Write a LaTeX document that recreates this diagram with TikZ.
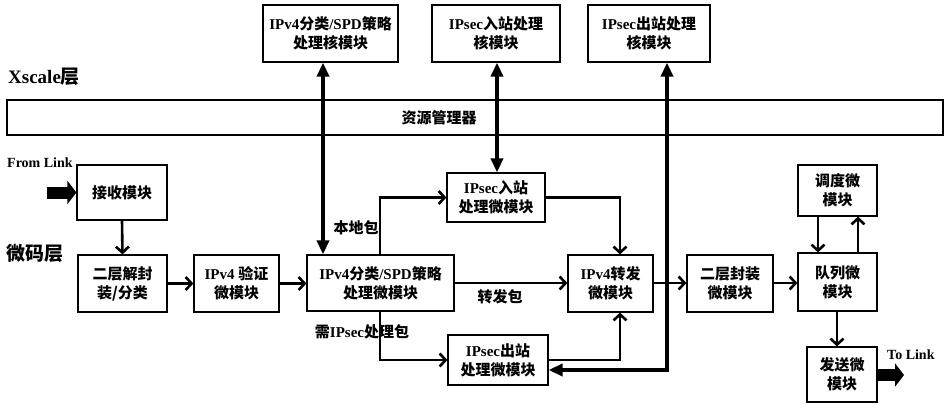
\documentclass[tikz,border=0pt]{standalone}
\usepackage{fontspec}
\setmainfont{Liberation Serif}
\newfontfamily\cjk{Noto Sans CJK SC}
\usetikzlibrary{arrows.meta}
\newcommand\zh[1]{{\cjk #1}}
\begin{document}
\begin{tikzpicture}[x=1pt,y=-1pt,
  box/.style={draw,line width=1.2pt,align=center,inner sep=0pt,font=\fontsize{15}{19}\selectfont\bfseries},
  conn/.style={line width=2.6pt,-{Straight Barb[length=6pt,width=13pt]}},
  big/.style={line width=3.4pt,{Triangle[length=14pt,width=12pt]}-{Triangle[length=14pt,width=12pt]}},
  blk/.style={line width=12pt,-{Triangle[length=9pt,width=23pt]}},
  lbl/.style={font=\fontsize{15}{18}\selectfont\bfseries,inner sep=0pt},
  lay/.style={font=\fontsize{19}{22}\selectfont\bfseries,inner sep=0pt,anchor=west},
  link/.style={font=\fontsize{14}{16}\selectfont\bfseries,inner sep=0pt,anchor=west},
]
\useasboundingbox (0,0) rectangle (947,405);
% top (Xscale) modules
\node[box,minimum width=135pt,minimum height=57pt] (T1) at (330.5,33.5) {IPv4\zh{分类}/SPD\zh{策略}\\\zh{处理核模块}};
\node[box,minimum width=128pt,minimum height=57pt] (T2) at (496,33.5) {IPsec\zh{入站处理}\\\zh{核模块}};
\node[box,minimum width=122pt,minimum height=57pt] (T3) at (649,33.5) {IPsec\zh{出站处理}\\\zh{核模块}};
\node[lay] (xs) at (8,77) {Xscale\zh{层}};
\node[box,minimum width=936pt,minimum height=35pt] (rm) at (475,117.5) {};
\node[lbl] (rmt) at (439,117.5) {\zh{资源管理器}};
% microcode modules
\node[lay] (mc) at (6,253) {\zh{微码层}};
\node[link] (fl) at (7,163) {From Link};
\node[box,minimum width=90pt,minimum height=55pt] (recv) at (122,192.5) {\zh{接收模块}};
\node[box,minimum width=89pt,minimum height=57pt] (decap) at (122.5,283.5) {\zh{二层解封}\\\zh{装/分类}};
\node[box,minimum width=85pt,minimum height=57pt] (ver) at (236.5,283.5) {IPv4 \zh{验证}\\\zh{微模块}};
\node[box,minimum width=147pt,minimum height=56pt] (cls) at (380.5,283) {IPv4\zh{分类}/SPD\zh{策略}\\\zh{处理微模块}};
\node[box,minimum width=98pt,minimum height=49pt] (inb) at (496,197.5) {IPsec\zh{入站}\\\zh{处理微模块}};
\node[box,minimum width=85pt,minimum height=57pt] (fwd) at (610.5,283.5) {IPv4\zh{转发}\\\zh{微模块}};
\node[box,minimum width=100pt,minimum height=50pt] (outb) at (498,360) {IPsec\zh{出站}\\\zh{处理微模块}};
\node[box,minimum width=86pt,minimum height=57pt] (encap) at (730,283.5) {\zh{二层封装}\\\zh{微模块}};
\node[box,minimum width=79pt,minimum height=58pt] (queue) at (837.5,282) {\zh{队列微}\\\zh{模块}};
\node[box,minimum width=79pt,minimum height=51pt] (sched) at (837.5,190.5) {\zh{调度微}\\\zh{模块}};
\node[box,minimum width=70pt,minimum height=55pt] (send) at (842,374.5) {\zh{发送微}\\\zh{模块}};
\node[link] (tl) at (887,355) {To Link};
% edge labels
\node[lbl] (l1) at (356,228) {\zh{本地包}};
\node[lbl] (l2) at (500,297) {\zh{转发包}};
\node[lbl] (l3) at (362,332) {\zh{需}IPsec\zh{处理包}};
% coordinates for free ends
\coordinate (fls) at (47,192.5);
\coordinate (tle) at (904,375);
% connectors
\draw[blk] (fls) -- (recv.west);
\draw[blk] (send.east |- tle) -- (tle);
\draw[conn] (recv.south) -- (decap.north);
\draw[conn] (decap.east) -- (ver.west);
\draw[conn] (ver.east) -- (ver.east -| cls.west);
\draw[big] (323,0 |- T1.south) -- (323,0 |- cls.north);
\draw[big] (497,0 |- T2.south) -- (497,0 |- inb.north);
\draw[big,line join=miter] (667,0 |- T3.south) -- (667,370) -- (outb.east |- 0,370);
\draw[conn] (380,0 |- cls.north) |- (inb.west);
\draw[conn] (inb.east) -| (620,0 |- fwd.north);
\draw[conn] (cls.east |- 0,283) -- (fwd.west |- 0,283);
\draw[conn] (380,0 |- cls.south) |- (outb.west);
\draw[conn] (outb.east) -| (620,0 |- fwd.south);
\draw[conn] (fwd.east |- 0,283) -- (encap.west |- 0,283);
\draw[conn] (encap.east |- 0,283) -- (queue.west |- 0,283);
\draw[conn] (818,0 |- sched.south) -- (818,0 |- queue.north);
\draw[conn] (858,0 |- queue.north) -- (858,0 |- sched.south);
\draw[conn] (837,0 |- queue.south) -- (837,0 |- send.north);
\end{tikzpicture}
\end{document}
